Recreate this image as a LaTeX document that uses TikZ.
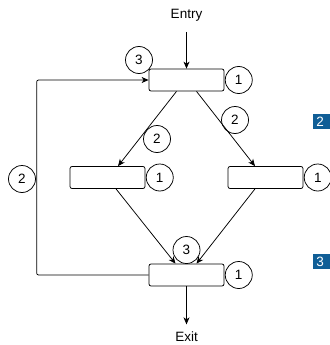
\documentclass[tikz,border=0pt]{standalone}
\usepackage{fontspec}
\setmainfont{Liberation Sans}
\usetikzlibrary{arrows.meta,positioning}
\definecolor{markblue}{RGB}{16,94,150}
\tikzset{
	>={Stealth[length=7pt,width=6pt,inset=2pt]},
	blk/.style={draw, rounded corners=2pt, minimum width=75pt, minimum height=22pt, inner sep=0pt},
	num/.style={draw, circle, minimum size=27pt, inner sep=0pt},
	sidemark/.style={fill=markblue, text=white, anchor=west, minimum height=15pt, inner xsep=3pt, inner ysep=0pt, text width=20pt}
}
\begin{document}
\begin{tikzpicture}[x=1pt, y=-1pt, line width=0.75pt, font=\fontsize{13.5}{16}\selectfont]
		\useasboundingbox (0, 0) rectangle (329, 345);

		% blocks
		\node[blk] (top) at (186.5, 80) {};
		\node[blk] (left) at (107.5, 177.5) {};
		\node[blk] (right) at (265.5, 177.5) {};
		\node[blk] (bot) at (186.5, 275) {};

		\node (entry) at (186.5, 15) {Entry};
		\node (exit) at (186.5, 337) {Exit};

		% weights
		\node[num, right=0.5pt of top]		(ntop) {1};
		\node[num, right=0.5pt of left]		(nleft) {1};
		\node[num, right=0.5pt of right]	(nright) {1};
		\node[num, right=0.5pt of bot]		(nbot) {1};
		\node[num] (ntopin) at (139, 60) {3};
		\node[num] (nbotin) at (186.5, 250) {3};
		\node[num] (nloop) at (22, 179) {2};
		\node[num] (nl) at (157, 139) {2};
		\node[num] (nr) at (235, 120) {2};

		% edges
		\draw[->]	(entry) ++(0, 17) -- (top.north);
		\draw[->]	([xshift=-10pt]top.south) -- ([xshift=10.5pt]left.north);
		\draw[->]	([xshift=10pt]top.south) -- ([xshift=-10.5pt]right.north);
		\draw[->]	([xshift=8.5pt]left.south) -- ([xshift=-11pt]bot.north);
		\draw[->]	([xshift=-10.5pt]right.south) -- ([xshift=10pt]bot.north);
		\draw[->, rounded corners=2pt]	(bot.west) -- ++(-112, 0) |- (top.west);
		\draw[->]	(bot.south) -- ([yshift=4pt]exit.north);

		% side marks
		\node[sidemark] (m2) at (313, 121.5) {2};
		\node[sidemark] (m3) at (313, 261.5) {3};
	\end{tikzpicture}
\end{document}
